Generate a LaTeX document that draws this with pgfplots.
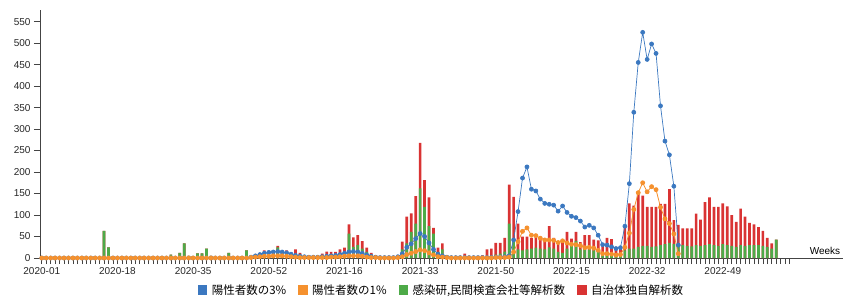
\documentclass[border=0pt]{standalone}
\usepackage{pgfplots}
\pgfplotsset{compat=1.18}
\usepackage{pgfplotstable}
\usepackage{fontspec}
\setmainfont{Liberation Sans}
\newfontfamily\cjk{Noto Sans CJK JP}
\definecolor{cblue}{HTML}{3B78C0}
\definecolor{corange}{HTML}{F5912E}
\definecolor{cgreen}{HTML}{4DAA48}
\definecolor{cred}{HTML}{D93333}
\definecolor{caxis}{HTML}{444444}

\pgfplotstableread{
i g r
14 63 0
15 25 0
29 8 0
31 12 0
32 34 0
33 5 0
35 11 0
36 11 0
37 22 0
38 5 0
40 4 0
42 12 0
44 4 0
46 18 0
47 4 0
48 6 2
49 8 3
50 8 10
51 8 6
52 9 5
53 25 3
54 10 5
55 15 3
56 6 2
57 8 12
58 8 4
59 4 1
60 3 0
61 3 0
62 4 1
63 5 5
64 6 9
65 5 9
66 6 8
67 10 10
68 12 12
69 57 21
70 26 22
71 30 23
72 22 17
73 14 10
74 8 4
75 4 1
76 2 0
77 2 0
78 3 0
79 2 0
80 3 1
81 20 18
82 34 62
83 61 43
84 80 64
85 162 106
86 119 62
87 74 67
88 57 13
89 14 10
90 20 14
91 4 1
92 2 0
93 2 0
94 2 0
95 3 7
96 2 0
98 1 0
99 2 4
100 4 16
101 5 17
102 8 27
103 10 25
104 15 32
105 80 91
106 46 96
107 20 60
108 18 32
109 20 30
110 22 25
111 24 24
112 22 25
113 20 21
114 25 49
115 22 25
116 14 18
117 12 25
118 22 39
119 30 15
120 40 21
121 20 17
122 22 31
123 20 33
124 18 25
125 16 25
126 12 18
127 14 33
128 12 32
129 10 16
130 10 15
131 18 55
132 22 105
133 22 100
134 26 126
135 28 117
136 28 91
137 26 93
138 27 92
139 30 96
140 32 94
141 35 125
142 32 56
143 34 43
144 30 39
145 28 41
146 27 42
147 30 73
148 28 61
149 30 100
150 32 109
151 30 89
152 28 91
153 32 95
154 30 90
155 28 72
156 26 58
157 30 85
158 28 68
159 30 52
160 30 48
161 30 42
162 28 35
163 26 21
164 22 12
165 43 0
}\bars

\pgfplotstableread{
i b o
0 0 0
1 0 0
2 0 0
3 0 0
4 0 0
5 0 0
6 0 0
7 0 0
8 0 0
9 0 0
10 0 0
11 0 0
12 0 0
13 0 0
14 0 0
15 0 0
16 0 0
17 0 0
18 0 0
19 0 0
20 0 0
21 0 0
22 0 0
23 0 0
24 0 0
25 0 0
26 0 0
27 0 0
28 0 0
29 0 0
30 0 0
31 0 0
32 0 0
33 0 0
34 0 0
35 0 0
36 0 0
37 0 0
38 0 0
39 0 0
40 0 0
41 0 0
42 0 0
43 0 0
44 0 0
45 0 0
46 0 0
47 2 1
48 5 2
49 8 3
50 11 4
51 13 4
52 14 5
53 15 5
54 14 5
55 12 4
56 9 3
57 6 2
58 4 1
59 3 1
60 2 1
61 2 1
62 2 1
63 3 1
64 4 1
65 5 2
66 6 2
67 8 3
68 11 4
69 14 5
70 15 5
71 14 5
72 11 4
73 7 2
74 4 1
75 2 1
76 1 0
77 1 0
78 1 0
79 1 0
80 3 1
81 10 3
82 25 8
83 33 11
84 45 15
85 57 19
86 50 17
87 35 12
88 20 7
89 9 3
90 5 2
91 2 1
92 1 0
93 1 0
94 1 0
95 1 0
96 1 0
97 1 0
98 1 0
99 1 0
100 1 0
101 1 0
102 2 1
103 2 1
104 3 1
105 5 2
106 42 14
107 108 38
108 186 62
109 212 70
110 160 53
111 156 52
112 137 46
113 127 42
114 125 42
115 123 41
116 109 36
117 121 40
118 106 35
119 97 32
120 94 31
121 86 29
122 72 24
123 76 25
124 70 23
125 53 18
126 31 10
127 30 10
128 26 9
129 22 7
130 24 8
131 74 25
132 173 58
133 339 113
134 455 152
135 525 175
136 462 154
137 498 166
138 476 159
139 354 118
140 272 91
141 240 80
142 167 56
143 30 10
}\lines

\begin{document}
\begin{tikzpicture}
\path[use as bounding box] (-40pt,-39pt) rectangle (806pt,258pt);
\begin{axis}[
  at={(0pt,0pt)}, anchor=south west,
  scale only axis, width=803pt, height=248pt,
  xmin=-0.4, xmax=180, ymin=0, ymax=577,
  axis x line=bottom, axis y line=left,
  axis line style={-, caxis, line width=0.8pt},
  ytick={0,50,...,550},
  xtick={0,17,...,153},
  xticklabels={2020-01,2020-18,2020-35,2020-52,2021-16,2021-33,2021-50,2022-15,2022-32,2022-49},
  minor xtick={0,...,168},
  tick align=outside,
  major tick length=6pt, minor tick length=6pt,
  tick style={caxis, line width=0.6pt},
  ticklabel style={font=\fontsize{10}{12}\selectfont, text=black!85},
  /pgf/number format/assume math mode=true,
  legend columns=4,
  legend style={at={(axis description cs:0.5,-0.13)}, anchor=center,
    draw=none, fill=none, font=\cjk\fontsize{11.5}{13}\selectfont,
    column sep=3pt,
    /tikz/every even column/.append style={column sep=10pt}},
]
\addlegendimage{legend image code/.code={\fill[cblue] (0pt,-3.5pt) rectangle (8.5pt,5pt);}}
\addlegendentry{陽性者数の3\%}
\addlegendimage{legend image code/.code={\fill[corange] (0pt,-3.5pt) rectangle (8.5pt,5pt);}}
\addlegendentry{陽性者数の1\%}
\addlegendimage{legend image code/.code={\fill[cgreen] (0pt,-3.5pt) rectangle (8.5pt,5pt);}}
\addlegendentry{感染研,民間検査会社等解析数}
\addlegendimage{legend image code/.code={\fill[cred] (0pt,-3.5pt) rectangle (8.5pt,5pt);}}
\addlegendentry{自治体独自解析数}

\addplot[ybar, bar width=2.7pt, bar shift=0pt, draw=none, fill=cred, forget plot]
  table[x=i, y expr=\thisrow{g}+\thisrow{r}] {\bars};
\addplot[ybar, bar width=2.7pt, bar shift=0pt, draw=none, fill=cgreen, forget plot]
  table[x=i, y=g] {\bars};
\addplot[cblue, line width=0.7pt, mark=*, mark size=2pt, mark options={solid, fill=cblue}, forget plot]
  table[x=i, y=b] {\lines};
\addplot[corange, line width=0.8pt, mark=*, mark size=2pt, mark options={solid, fill=corange}, forget plot]
  table[x=i, y=o] {\lines};

\node[anchor=south east, inner sep=0pt, font=\fontsize{10}{12}\selectfont] at (axis cs:179.4,8) {Weeks};
\end{axis}
\end{tikzpicture}
\end{document}
